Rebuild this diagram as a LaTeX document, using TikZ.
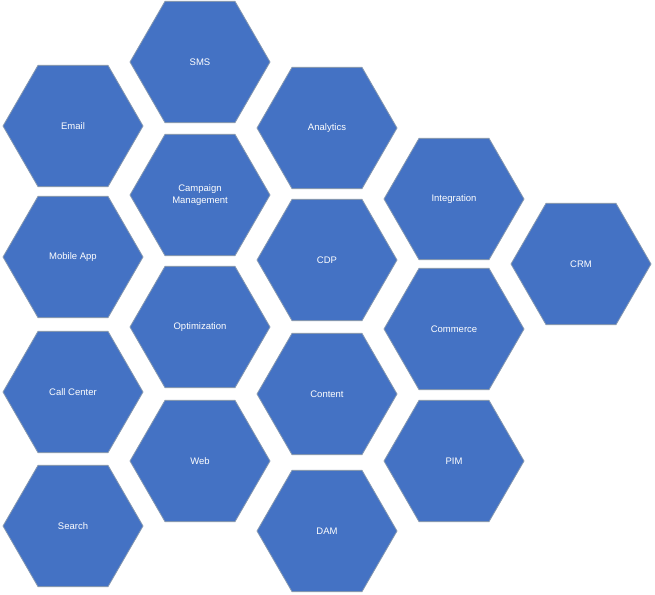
\documentclass[tikz,border=0pt]{standalone}
\usepackage{fontspec}
\setmainfont{Liberation Sans}
\usetikzlibrary{shapes.geometric}
\definecolor{hexblue}{HTML}{4472C4}
\definecolor{hexedge}{HTML}{8497B0}
\tikzset{
	hexcell/.style={regular polygon,regular polygon sides=6,minimum size=140pt,inner sep=0pt,
		fill=hexblue,draw=hexedge,line width=0.8pt,text=white,align=center,
		font=\fontsize{9.5}{12}\selectfont}
}
\begin{document}
\begin{tikzpicture}[x=1pt,y=-1pt]
	\useasboundingbox (0,0) rectangle (655,594);
	
	%first column
	\node[hexcell] (email)  at (73,126) {Email};
	\node[hexcell] (mobile) at (73,257) {Mobile App};
	\node[hexcell] (call)   at (73,392) {Call Center};
	\node[hexcell] (search) at (73,526) {Search};
	
	%second column
	\node[hexcell] (sms)      at (200,62)  {SMS};
	\node[hexcell] (campaign) at (200,195) {Campaign\\Management};
	\node[hexcell] (optim)    at (200,327) {Optimization};
	\node[hexcell] (web)      at (200,461) {Web};
	
	%third column
	\node[hexcell] (analytics) at (327,128) {Analytics};
	\node[hexcell] (cdp)       at (327,260) {CDP};
	\node[hexcell] (content)   at (327,394) {Content};
	\node[hexcell] (dam)       at (327,531) {DAM};
	
	%fourth and fifth column
	\node[hexcell] (integr)   at (454,199) {Integration};
	\node[hexcell] (commerce) at (454,329) {Commerce};
	\node[hexcell] (pim)      at (454,461) {PIM};
	\node[hexcell] (crm)      at (581,264) {CRM};
\end{tikzpicture}
\end{document}
